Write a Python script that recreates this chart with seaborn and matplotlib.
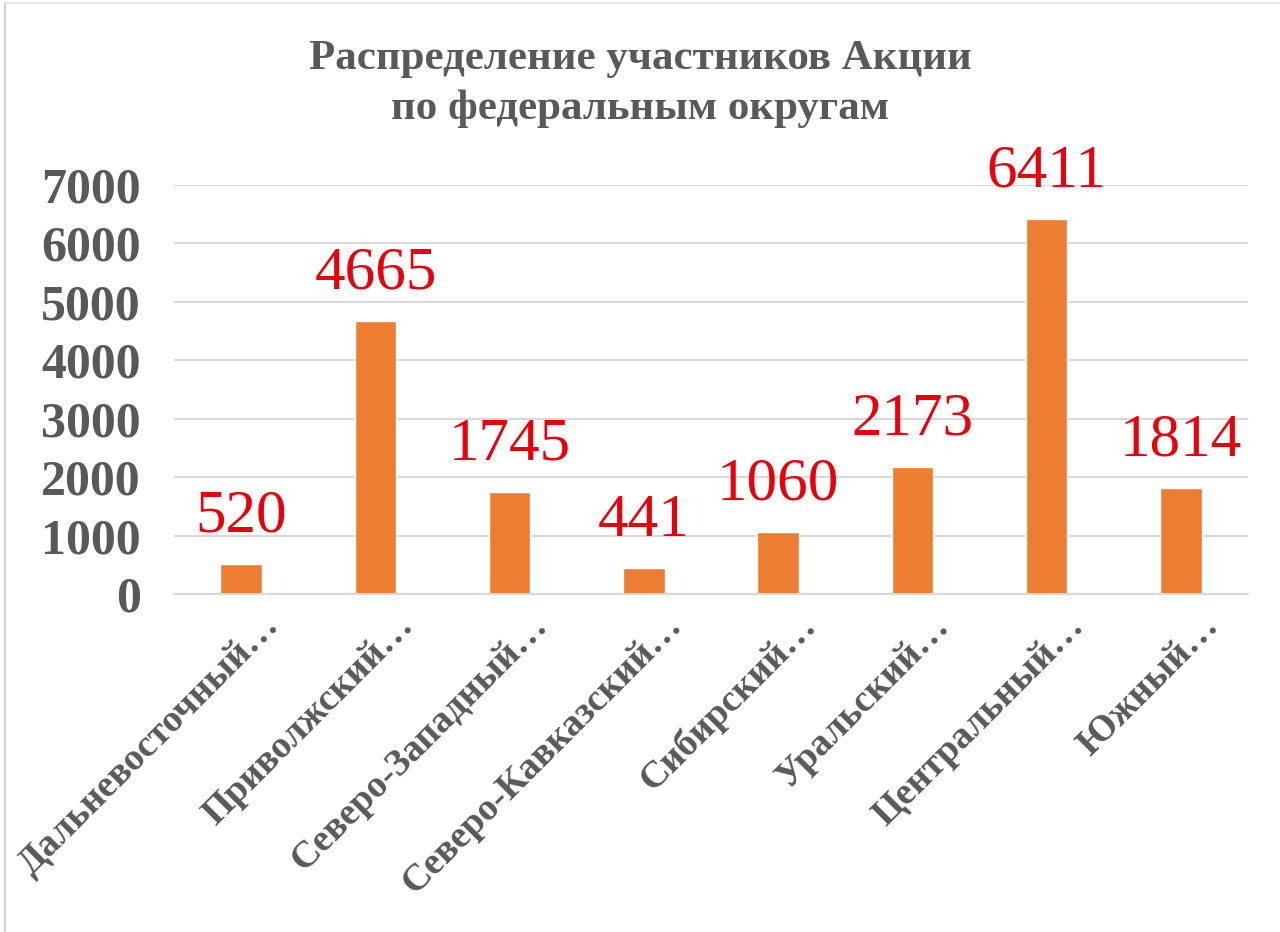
import matplotlib
matplotlib.use("Agg")
import matplotlib.pyplot as plt
import matplotlib.transforms as mtrans
from matplotlib.lines import Line2D
import seaborn as sns
import pandas as pd

categories = ["Дальневосточный…", "Приволжский…", "Северо-Западный…", "Северо-Кавказский…",
              "Сибирский…", "Уральский…", "Центральный…", "Южный…"]
values = [520, 4665, 1745, 441, 1060, 2173, 6411, 1814]
yticks = [0, 1000, 2000, 3000, 4000, 5000, 6000, 7000]
title = "Распределение участников Акции\nпо федеральным округам"

sns.set_theme(style="white")
plt.rcParams['font.family'] = ['Liberation Serif', 'DejaVu Serif']

gray = "#595959"
df = pd.DataFrame({"cat": categories, "val": values})

fig = plt.figure(figsize=(12.8, 9.32), dpi=100)
ax = fig.add_axes([0.136, 0.3627, 0.839, 0.439])
sns.barplot(data=df, x="cat", y="val", color="#ED7D31", saturation=1, width=0.31, ax=ax)

ax.set_ylim(0, 7000)
ax.set_xlim(-0.5, len(categories) - 0.5)
ax.set_yticks(yticks)
ax.set_yticklabels([str(t) for t in yticks], fontsize=36, fontweight='bold', color=gray)
ax.yaxis.grid(True, color="#D9D9D9", linewidth=1.5)
ax.set_axisbelow(True)
for s in ["left", "right", "top"]:
    ax.spines[s].set_visible(False)
ax.spines["bottom"].set_color("#D9D9D9")
ax.spines["bottom"].set_linewidth(1.5)
ax.tick_params(axis='y', length=0, pad=24)
ax.tick_params(axis='x', length=0, pad=8)
ax.set_xlabel("")
ax.set_ylabel("")

ax.set_xticks(range(len(categories)))
ax.set_xticklabels(categories, rotation=45, ha='right', va='top', rotation_mode='anchor',
                   fontsize=27.5, fontweight='bold', color=gray)
shift = mtrans.ScaledTranslation(0.2, -0.03, fig.dpi_scale_trans)
for lbl in ax.get_xticklabels():
    lbl.set_transform(lbl.get_transform() + shift)

for container in ax.containers:
    ax.bar_label(container, labels=[str(v) for v in values], padding=14,
                 fontsize=44, color="#E8000B")

fig.text(0.5, 0.957, title, ha='center', va='top', fontsize=31, fontweight='bold',
         color=gray, linespacing=1.4)

# faint chart border (left and top)
fig.add_artist(Line2D([0.004, 0.004], [0, 0.997], transform=fig.transFigure,
                      color="#D0D0D0", linewidth=1.5))
fig.add_artist(Line2D([0.004, 1.0], [0.997, 0.997], transform=fig.transFigure,
                      color="#E0E0E0", linewidth=1.2))

fig.savefig("out.png", dpi=100)
